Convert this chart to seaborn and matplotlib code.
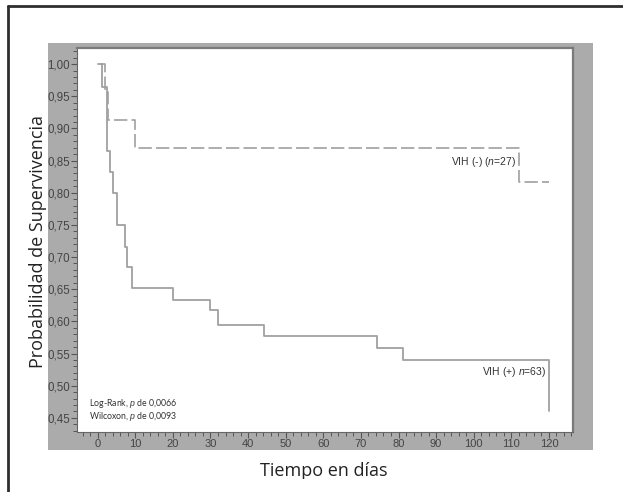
import numpy as np
import pandas as pd
import matplotlib
matplotlib.use("Agg")
import matplotlib.pyplot as plt
import seaborn as sns
from matplotlib.patches import Rectangle
from matplotlib.lines import Line2D
from matplotlib.ticker import MultipleLocator, FixedLocator

# DATA

vih_pos_time = [0.2, 1.2, 2.4, 3.3, 4.15, 5.2, 7.3, 7.9, 9.0, 20.1, 30.0, 32.0, 44.2, 74.2, 81.2, 120.0]
vih_pos_surv = [1.00, 0.965, 0.865, 0.832, 0.80, 0.75, 0.716, 0.684, 0.652, 0.633, 0.617, 0.595, 0.578, 0.558, 0.54, 0.46]

vih_neg_time = [0.5, 1.9, 2.7, 9.9, 112.0, 120.0]
vih_neg_surv = [1.00, 0.956, 0.913, 0.869, 0.817, 0.817]

x_ticks = [0, 10, 20, 30, 40, 50, 60, 70, 80, 90, 100, 110, 120]
y_ticks = [0.45, 0.50, 0.55, 0.60, 0.65, 0.70, 0.75, 0.80, 0.85, 0.90, 0.95, 1.00]
y_tick_labels = ["0,45", "0,50", "0,55", "0,60", "0,65", "0,70", "0,75", "0,80", "0,85", "0,90", "0,95", "1,00"]

label_neg = "VIH (-) ($\\mathit{n}$=27)"
label_pos = "VIH (+) $\\mathit{n}$=63)"
stats_text = ["Log-Rank, $\\mathit{p}$ de 0,0066", "Wilcoxon, $\\mathit{p}$ de 0,0093"]

df_pos = pd.DataFrame({"t": vih_pos_time, "s": vih_pos_surv})
df_neg = pd.DataFrame({"t": vih_neg_time, "s": vih_neg_surv})

# STYLE

sns.set_style("white")
plt.rcParams["font.family"] = ["Liberation Sans", "DejaVu Sans"]
plt.rcParams["mathtext.fontset"] = "custom"
plt.rcParams["mathtext.it"] = "Liberation Sans:italic"
plt.rcParams["mathtext.rm"] = "Liberation Sans"

W, H = 623, 492
fig = plt.figure(figsize=(W / 100, H / 100), dpi=100)
fig.patch.set_facecolor("white")

# gray panel behind the plot
fig.patches.append(Rectangle((48 / W, 1 - 450 / H), 545 / W, 407 / H,
                             transform=fig.transFigure, facecolor="#ababab",
                             edgecolor="none", zorder=-2))

ax = fig.add_axes([77 / W, 1 - 432 / H, 496 / W, 384 / H])
ax.set_zorder(2)
ax.set_facecolor("white")

line_col = "#a0a0a0"
sns.lineplot(data=df_neg, x="t", y="s", ax=ax, estimator=None, sort=False,
             drawstyle="steps-post", color=line_col, lw=1.2,
             linestyle=(0, (8, 2.5)))
sns.lineplot(data=df_pos, x="t", y="s", ax=ax, estimator=None, sort=False,
             drawstyle="steps-post", color=line_col, lw=1.3)

ax.set_xlim(-5.5, 126.4)
ax.set_ylim(0.428, 1.025)
ax.xaxis.set_major_locator(FixedLocator(x_ticks))
ax.xaxis.set_minor_locator(MultipleLocator(2))
ax.yaxis.set_major_locator(FixedLocator(y_ticks))
ax.set_yticklabels(y_tick_labels)
ax.yaxis.set_minor_locator(MultipleLocator(0.01))

ax.tick_params(axis="both", which="major", direction="out", length=4, width=0.8,
               color="#555555", labelsize=8, labelcolor="#444444", pad=1.2)
ax.tick_params(axis="y", which="major", labelsize=8.3)
ax.tick_params(axis="both", which="minor", direction="out", length=3, width=0.7,
               color="#555555")
ax.tick_params(axis="both", which="both", left=True, bottom=True)

for s in ["left", "bottom"]:
    ax.spines[s].set_color("#666666")
    ax.spines[s].set_linewidth(0.8)
for s in ["top", "right"]:
    ax.spines[s].set_color("#7a7a7a")
    ax.spines[s].set_linewidth(1.6)

ax.set_xlabel("")
ax.set_ylabel("")

# annotations
ax.text(112.0 - 0.8, 0.858, label_neg, ha="right", va="top", fontsize=7.5, color="#333333")
ax.text(119.3, 0.532, label_pos, ha="right", va="top", fontsize=7.5, color="#333333")
ax.text(-2.3, 0.4615, "\n".join(stats_text), ha="left", va="center", fontsize=6.3,
        linespacing=1.0, color="#333333", family=["Lato", "DejaVu Sans"])

# axis titles
fig.text(324 / W, 1 - 471 / H, "Tiempo en días", ha="center", va="center",
         fontsize=13, color="#222222", family=["Open Sans", "DejaVu Sans"])
fig.text(38 / W, 1 - 241 / H, "Probabilidad de Supervivencia", ha="center", va="center",
         rotation=90, fontsize=13, color="#222222", family=["Open Sans", "DejaVu Sans"])

# clipped bottom of the figure
fig.patches.append(Rectangle((11 / W, 0), 1, 13 / H, transform=fig.transFigure,
                             facecolor="white", edgecolor="none", zorder=5))

# outer frame (left and top)
fig.lines.append(Line2D([8 / W, 8 / W], [0, 1 - 6 / H], transform=fig.transFigure,
                        color="#2e2e2e", lw=2.0, zorder=6))
fig.lines.append(Line2D([8 / W, 1], [1 - 6 / H, 1 - 6 / H], transform=fig.transFigure,
                        color="#2e2e2e", lw=2.0, zorder=6))

fig.savefig("out.png", dpi=100)
